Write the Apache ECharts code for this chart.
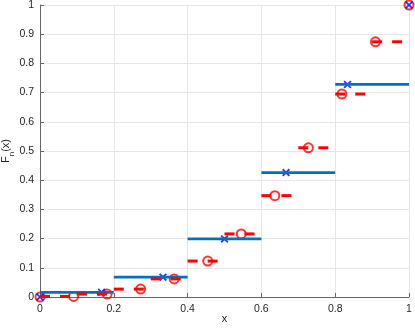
<!DOCTYPE html>
<html>
<head>
<meta charset="utf-8">
<script src="https://cdn.jsdelivr.net/npm/echarts@6/dist/echarts.min.js"></script>
<style>
html, body { margin: 0; padding: 0; background: #fff; }
#chart { width: 415px; height: 328px; }
</style>
</head>
<body>
<div id="chart"></div>
<script>
// coarse step function (blue)
var blueEdges = [0, 0.2, 0.4, 0.6, 0.8, 1];
var blueLevels = [0.016, 0.068, 0.199, 0.426, 0.728];
var blueX = [0, 0.1667, 0.3333, 0.5, 0.6667, 0.8333, 1];
var blueY = [0, 0.016, 0.068, 0.199, 0.426, 0.728, 1];

// fine step function (red, dashed)
var redEdges = [0, 0.1, 0.2, 0.3, 0.4, 0.5, 0.6, 0.7, 0.8, 0.9, 1];
var redLevels = [0.002, 0.010, 0.027, 0.062, 0.123, 0.216, 0.347, 0.511, 0.695, 0.874];
var redX = [0, 0.0909, 0.1818, 0.2727, 0.3636, 0.4545, 0.5455, 0.6364, 0.7273, 0.8182, 0.9091, 1];
var redY = [0, 0.002, 0.010, 0.027, 0.062, 0.123, 0.216, 0.347, 0.511, 0.695, 0.874, 1];

var FONT = 'Liberation Sans';
var xMark = 'path://M0,1.6L1.6,0L5,3.4L8.4,0L10,1.6L6.6,5L10,8.4L8.4,10L5,6.6L1.6,10L0,8.4L3.4,5Z';

var myChart = echarts.init(document.getElementById('chart'));
var series = [];

// blue segments
for (var i = 0; i < blueLevels.length; i++) {
    series.push({
        type: 'line',
        data: [[blueEdges[i], blueLevels[i]], [blueEdges[i + 1], blueLevels[i]]],
        symbol: 'none',
        silent: true,
        animation: false,
        lineStyle: { color: '#0072BD', width: 2.7 }
    });
}
// red dashed segments
for (var j = 0; j < redLevels.length; j++) {
    series.push({
        type: 'line',
        data: [[redEdges[j], redLevels[j]], [redEdges[j + 1], redLevels[j]]],
        symbol: 'none',
        silent: true,
        animation: false,
        lineStyle: { color: '#ff0000', width: 3, type: [10, 10] }
    });
}
// red circles
series.push({
    type: 'scatter',
    data: redX.map(function (x, k) { return [x, redY[k]]; }),
    symbol: 'circle',
    symbolSize: 9,
    clip: false,
    animation: false,
    itemStyle: { color: 'rgba(0,0,0,0)', borderColor: '#ff0000', borderWidth: 2 }
});
// blue crosses
series.push({
    type: 'scatter',
    data: blueX.map(function (x, k) { return [x, blueY[k]]; }),
    symbol: xMark,
    symbolSize: 8,
    clip: false,
    animation: false,
    itemStyle: { color: '#0000ff' }
});

var axisCommon = {
    type: 'value',
    min: 0,
    max: 1,
    axisLine: { show: true, lineStyle: { color: '#666', width: 1 } },
    axisTick: { show: true, inside: true, length: 4, lineStyle: { color: '#666' } },
    axisLabel: { color: '#262626', fontFamily: FONT, fontSize: 10.5 },
    splitLine: { show: true, lineStyle: { color: '#e6e6e6', width: 1 } },
    nameLocation: 'middle',
    nameMoveOverlap: false,
    nameTextStyle: { color: '#262626', fontFamily: FONT, fontSize: 11 }
};

var option = {
    backgroundColor: '#fff',
    animation: false,
    grid: { left: 40, right: 6, top: 5, bottom: 31, containLabel: false, outerBoundsMode: 'none' },
    xAxis: Object.assign({}, axisCommon, {
        interval: 0.2,
        name: 'x',
        nameGap: 16,
        axisLabel: Object.assign({}, axisCommon.axisLabel, { margin: 7 })
    }),
    yAxis: Object.assign({}, axisCommon, {
        interval: 0.1,
        name: '{a|F}{b|n}{a|(x)}',
        nameGap: 24,
        axisLabel: Object.assign({}, axisCommon.axisLabel, { margin: 6 }),
        nameTextStyle: {
            color: '#262626',
            fontFamily: FONT,
            rich: {
                a: { fontFamily: FONT, fontSize: 11, color: '#262626', verticalAlign: 'top', lineHeight: 16 },
                b: { fontFamily: FONT, fontSize: 8, color: '#262626', verticalAlign: 'bottom', lineHeight: 16 }
            }
        }
    }),
    series: series
};

myChart.setOption(option);
</script>
</body>
</html>
